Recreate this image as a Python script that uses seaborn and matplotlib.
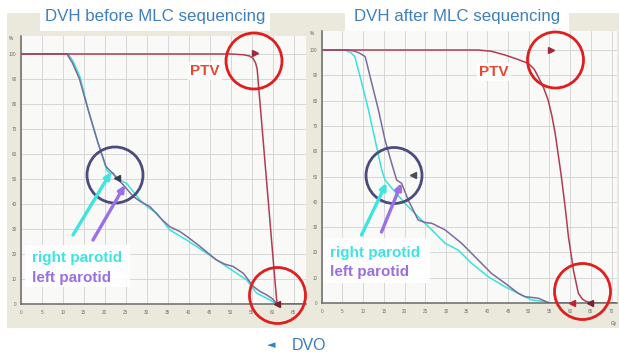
import numpy as np
import pandas as pd
import seaborn as sns
import matplotlib
matplotlib.use("Agg")
import matplotlib.pyplot as plt
from matplotlib.patches import Ellipse, Rectangle, FancyArrowPatch
from matplotlib.transforms import Affine2D

# ---------------- data (dose in Gy, volume in %) ----------------
ptv_before_dose = [0, 10, 20, 30, 40, 50, 53, 54.5, 55.3, 55.9, 56.3, 57.3, 58.5, 59.5, 60.5, 61.0, 61.2, 64, 67.5]
ptv_before_vol = [100, 100, 100, 100, 100, 100, 99.7, 99.2, 98.3, 96.5, 94, 74, 50, 30, 10, 0.5, 0, 0, 0]

rpar_before_dose = [0, 11.3, 12.5, 14.1, 16.1, 18.5, 20.5, 21.5, 22.0, 23.0, 25.2, 28.4, 30.5, 32.4, 35.5,
                    39.5, 44.3, 49.0, 53.8, 56.2, 58.6, 61.0, 62]
rpar_before_vol = [100, 100, 97, 90.9, 77.6, 64, 53.6, 52, 52.5, 50, 48.3, 41.6, 38.5, 36.3, 29.6,
                   25.6, 20.3, 15, 9.6, 4.3, 2.3, 0, 0]

lpar_before_dose = [0, 11.0, 12.3, 14.0, 16.0, 18.3, 20.3, 21.8, 22.9, 24.5, 26.8, 28.5, 30.8, 33.5, 35.5,
                    37.9, 40.0, 42.7, 44.5, 46.6, 48.5, 50.6, 53.0, 55.4, 57.0, 58.6, 60.0, 61.0, 62]
lpar_before_vol = [100, 100, 96.5, 90, 78, 65, 55, 52.5, 50.3, 47.5, 43, 41, 38.9, 34, 30.9,
                   29, 26.5, 23, 20.5, 17.6, 16, 15, 12.3, 7, 5, 3.6, 2, 0, 0]

ptv_after_dose = [0, 10, 20, 30, 37.8, 41, 44.3, 47, 49.9, 51.3, 52.3, 53.5, 54.7, 55.6, 56.4, 57.8,
                  58.8, 59.6, 60.8, 62.0, 63, 64, 66, 71]
ptv_after_vol = [100, 100, 100, 100, 100, 99.5, 98, 96.5, 94.7, 92.5, 89.4, 85.5, 80.2, 74, 67, 51,
                 38, 26.2, 13, 3.8, 1.5, 0.5, 0, 0]

rpar_after_dose = [0, 5.6, 7.0, 8.0, 9.7, 11.3, 12.9, 14.5, 15.3, 17.3, 20.1, 23.3, 26.6, 29.8, 33.0,
                   36.2, 40.2, 44.3, 47.5, 50.7, 54.0, 55.5, 60]
rpar_after_vol = [100, 100, 99, 97.4, 86.8, 76.3, 64.4, 52.6, 48.6, 44.7, 39.4, 34.1, 28.9, 23.6, 20.9,
                  15.7, 10.4, 6.4, 3.8, 1.2, 0.5, 0, 0]

lpar_after_dose = [0, 6.4, 8.0, 9.2, 10.5, 12.1, 13.7, 15.3, 16.9, 18.1, 19.3, 20.9, 23.3, 25, 26.6,
                   29.8, 33.8, 37.8, 41.0, 44.3, 47.5, 49.1, 52.3, 55.0, 60]
lpar_after_vol = [100, 100, 99.5, 98.7, 97.4, 86.8, 76.3, 64.4, 55.2, 48.6, 47.3, 40.7, 32.8, 31.8, 31.5,
                  28.9, 23.6, 17, 11.7, 7.8, 3.8, 2.5, 1.9, 0, 0]

# DVO markers
dvo_before_dose = [55.8, 61.0, 22.9]
dvo_before_vol = [100.5, 0, 50.3]
dvo_before_mark = [">", "<", "<"]
dvo_before_col = ["#a02838", "#7a2030", "#3c3c4c"]
dvo_after_dose = [55.4, 60.4, 64.8, 22.1]
dvo_after_vol = [100, 0, 0, 50.6]
dvo_after_mark = [">", "<", "<", "<"]
dvo_after_col = ["#a02838", "#c02030", "#7a2030", "#4c4c5c"]

x_ticks_before = list(range(0, 66, 5))
x_ticks_after = list(range(0, 71, 5))
y_ticks = list(range(0, 101, 10))

titles = ["DVH before MLC sequencing", "DVH after MLC sequencing"]

# ---------------- style ----------------
sns.set_theme(style="whitegrid")
plt.rcParams["font.family"] = ["Liberation Sans", "DejaVu Sans"]

C_PTV = "#b03c52"
C_RPAR = "#38e2dc"
C_LPAR = "#7a6c9c"
C_TITLE = "#3f7fbf"

W, H = 619, 352
fig = plt.figure(figsize=(W / 100, H / 100), dpi=100)
fig.patch.set_facecolor("white")
PX = Affine2D().scale(1 / 100, -1 / 100).translate(0, H / 100) + fig.dpi_scale_trans

# beige panel backgrounds
for (x, w) in [(7, 301), (308, 311)]:
    fig.add_artist(Rectangle((x, 13), w, 315, transform=PX, fc="#ebe8dc", ec="none", zorder=-5))


def make_ax(x0, x1, ytop, ybot):
    return fig.add_axes([x0 / W, (H - ybot) / H, (x1 - x0) / W, (ybot - ytop) / H])


def style_ax(ax, xticks, xmax, ymax):
    ax.set_facecolor("#f9f9f7")
    ax.set_xlim(0, xmax)
    ax.set_ylim(0, ymax)
    ax.set_xticks(xticks)
    ax.set_yticks(y_ticks)
    ax.grid(True, color="#d6d6d6", lw=0.7)
    ax.tick_params(axis="both", labelsize=3.3, colors="#707070", length=1.5, width=0.5, pad=1.5)
    ax.tick_params(axis="x", pad=3)
    for s in ["top", "right"]:
        ax.spines[s].set_visible(False)
    for s in ["left", "bottom"]:
        ax.spines[s].set_color("#6a6a6a")
        ax.spines[s].set_linewidth(1.1)
    ax.set_xlabel("")
    ax.set_ylabel("")
    ax.text(-0.025, 1.0, "%", transform=ax.transAxes, fontsize=3.5, color="#555555",
            ha="right", va="top")


def draw_curves(ax, curves, dvo_d, dvo_v, dvo_m, dvo_c):
    for dose, vol, col in curves:
        df = pd.DataFrame({"dose": dose, "vol": vol})
        sns.lineplot(data=df, x="dose", y="vol", ax=ax, color=col, lw=1.1,
                     sort=False, estimator=None, legend=False)
    for d, v, m, c in zip(dvo_d, dvo_v, dvo_m, dvo_c):
        ax.plot([d], [v], marker=m, color=c, ms=4.5, ls="none", clip_on=False, zorder=6)


# left panel
axL = make_ax(20.7, 306, 36, 304)
draw_curves(axL, [(rpar_before_dose, rpar_before_vol, C_RPAR),
                  (lpar_before_dose, lpar_before_vol, C_LPAR),
                  (ptv_before_dose, ptv_before_vol, C_PTV)],
            dvo_before_dose, dvo_before_vol, dvo_before_mark, dvo_before_col)
style_ax(axL, x_ticks_before, (306 - 20.7) / 4.2, (304 - 36) / 2.5)

# right panel
axR = make_ax(321.7, 617, 31, 303)
draw_curves(axR, [(rpar_after_dose, rpar_after_vol, C_RPAR),
                  (lpar_after_dose, lpar_after_vol, C_LPAR),
                  (ptv_after_dose, ptv_after_vol, C_PTV)],
            dvo_after_dose, dvo_after_vol, dvo_after_mark, dvo_after_col)
style_ax(axR, x_ticks_after, (617 - 321.7) / 4.14, (303 - 31) / 2.53)
fig.text(614, 323, "Gy", transform=PX, fontsize=3.5, color="#555555", ha="center", va="center")

# title tabs
for (x, w, cx, t) in [(40, 230, 155, titles[0]), (345, 224, 457, titles[1])]:
    fig.add_artist(Rectangle((x, 0), w, 31, transform=PX, fc="white", ec="none", zorder=4))
    fig.text(cx, 17, t, transform=PX, fontsize=12.2, color=C_TITLE, ha="center", va="center", zorder=5)

# annotations: circles
circles = [((254, 61), "#e01e1e"), ((277.5, 295.5), "#e01e1e"), ((115, 175), "#4c4c7c"),
           ((555.5, 60), "#e01e1e"), ((582.5, 291.5), "#e01e1e"), ((394, 175.5), "#4c4c7c")]
for (c, col) in circles:
    fig.add_artist(Ellipse(c, 56, 56, transform=PX, fill=False, ec=col, lw=2.0, zorder=7))

# PTV labels
for (cx, cy) in [(205, 71), (494, 72)]:
    fig.text(cx, cy, "PTV", transform=PX, fontsize=11, fontweight="bold", color="#e8482e",
             ha="center", va="center", zorder=8,
             bbox=dict(fc="white", ec="none", pad=1.5, alpha=0.9))

# arrows
arrows = [((73, 235), (111, 172), "#3ee4e0"), ((93, 240), (125, 185), "#9a70e6"),
          ((361.5, 235), (386.5, 183), "#3ee4e0"), ((381.5, 232), (401.5, 183), "#9a70e6")]
for (a, b, col) in arrows:
    fig.add_artist(FancyArrowPatch(a, b, transform=PX, arrowstyle="-|>", mutation_scale=9,
                                   lw=2.4, color=col, zorder=8, shrinkA=0, shrinkB=0))

# parotid legend boxes
for (x, y, w, h, ty1, ty2, tx) in [(25, 245, 105, 42, 258, 278, 32), (323, 238, 107, 45, 253, 272, 330)]:
    fig.add_artist(Rectangle((x, y), w, h, transform=PX, fc="white", ec="none", alpha=0.92, zorder=8))
    fig.text(tx, ty1, "right parotid", transform=PX, fontsize=11, fontweight="bold",
             color="#3ee4e0", ha="left", va="center", zorder=9)
    fig.text(tx, ty2, "left parotid", transform=PX, fontsize=11, fontweight="bold",
             color="#9a70e0", ha="left", va="center", zorder=9)

# DVO legend
fig.text(271, 345, "\u25c4", transform=PX, fontsize=8, color="#2f86c8", ha="center", va="center",
         family=["DejaVu Sans"])
fig.text(292, 345, "DVO", transform=PX, fontsize=11.5, color="#3a7cb8", ha="left", va="center")

fig.savefig("out.png", dpi=100, facecolor="white")
